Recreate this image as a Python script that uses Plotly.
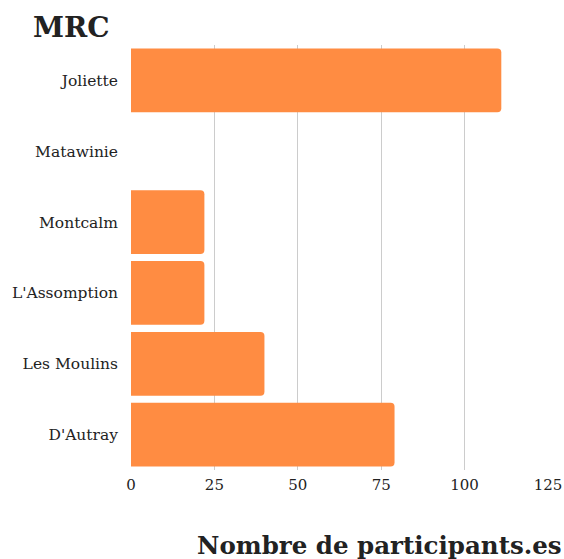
import plotly.graph_objects as go

categories = ["Joliette", "Matawinie", "Montcalm", "L'Assomption", "Les Moulins", "D'Autray"]
values = [111, 0, 22, 22, 40, 79]
x_ticks = [0, 25, 50, 75, 100, 125]

FONT = "DejaVu Serif"

fig = go.Figure(go.Bar(
    y=categories, x=values, orientation="h",
    marker=dict(color="#FF8C42", cornerradius=4, line=dict(width=0)),
    hoverinfo="skip",
))

fig.update_layout(
    width=564, height=559,
    margin=dict(l=131, r=16, t=45, b=89, autoexpand=False),
    paper_bgcolor="white", plot_bgcolor="white",
    bargap=0.1,
    showlegend=False,
    font=dict(family=FONT, color="#222222", size=15),
    xaxis=dict(range=[0, 125], tickvals=x_ticks, showgrid=True, gridcolor="#cccccc",
               gridwidth=1, zeroline=False, showline=False, ticks="",
               ticklabelstandoff=4, automargin=False, fixedrange=True,
               tickfont=dict(size=15, family=FONT, color="#222222")),
    yaxis=dict(autorange="reversed", showgrid=False, zeroline=False, showline=False,
               ticks="", ticklabelstandoff=12, automargin=False, fixedrange=True,
               tickfont=dict(size=15.5, family=FONT, color="#222222")),
    annotations=[
        dict(text="<b>MRC</b>", xref="paper", yref="paper", x=(31-131)/417, y=1 + (45-27)/425,
             xanchor="left", yanchor="middle", showarrow=False,
             font=dict(size=28, family=FONT, color="#222222")),
        dict(text="<b>Nombre de participants.es</b>", xref="paper", yref="paper",
             x=(564-131)/417, y=(470-545)/425, xanchor="right", yanchor="middle",
             showarrow=False, font=dict(size=24.5, family=FONT, color="#222222")),
    ],
)

fig.write_html("out.html", config={"displayModeBar": False},
               post_script="document.body.style.margin='0';document.body.style.overflow='hidden';")
